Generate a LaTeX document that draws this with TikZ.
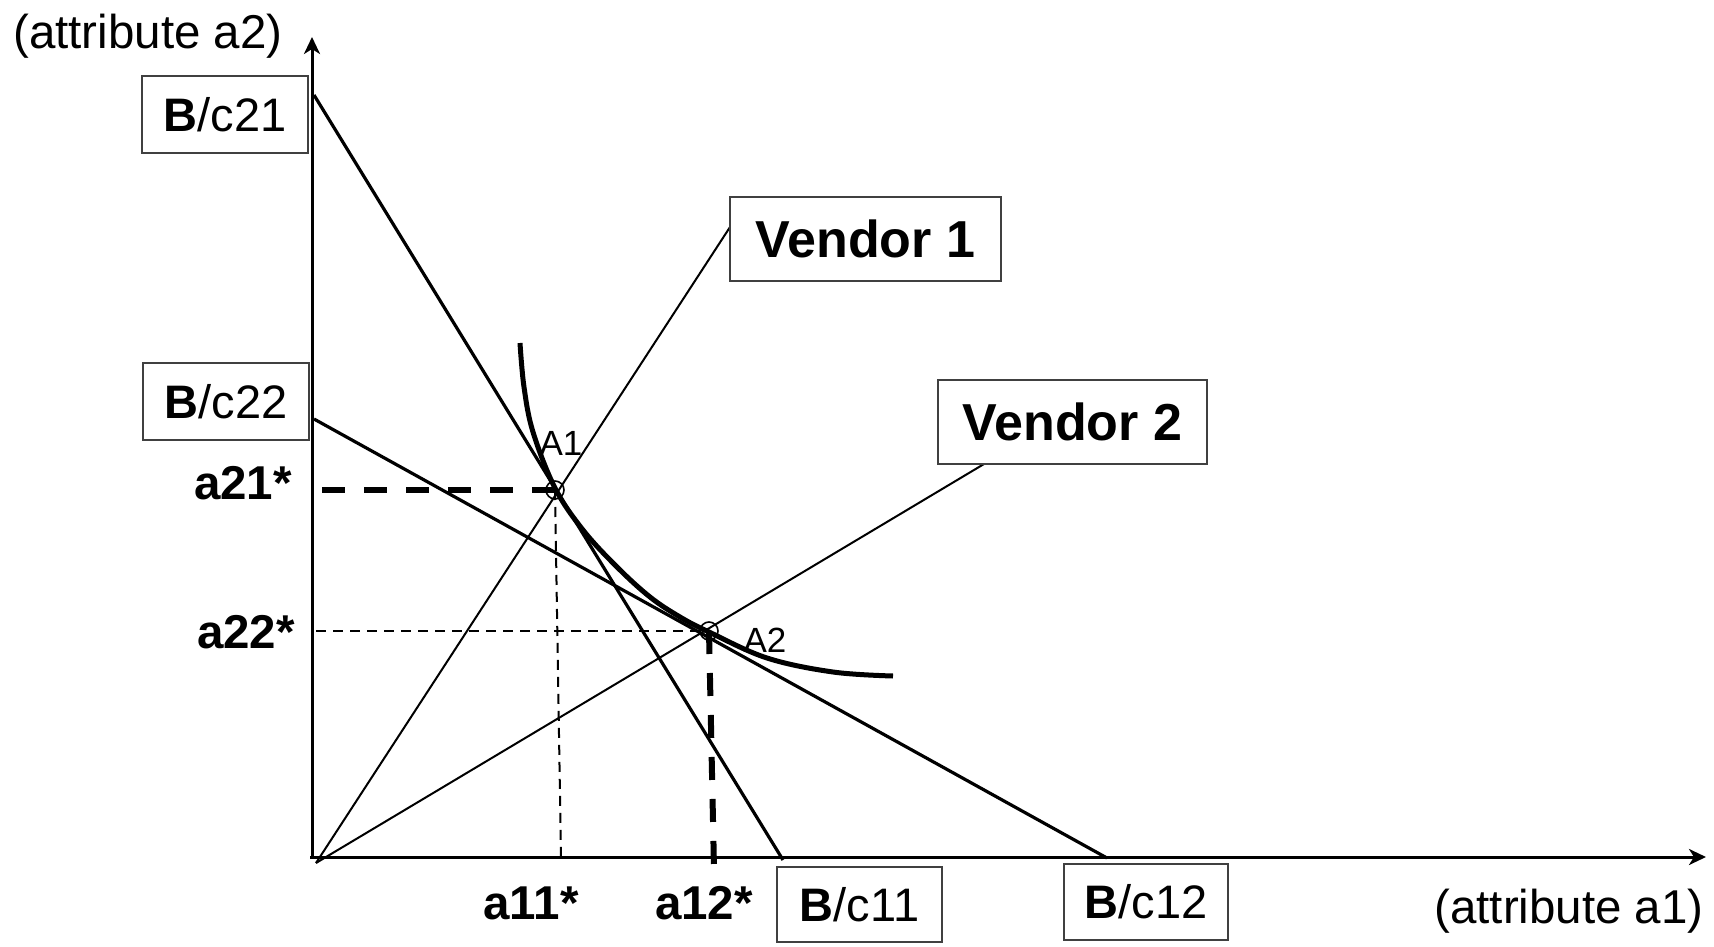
\documentclass[tikz,border=0pt]{standalone}
\usepackage{fontspec}
\setmainfont{Liberation Sans}
\usetikzlibrary{arrows.meta}
\begin{document}
\begin{tikzpicture}[x=1pt,y=-1pt,
  box/.style={draw=black!75, line width=1.5pt, inner sep=0pt, fill=white, font=\fontsize{47}{52}\selectfont},
  axlab/.style={font=\fontsize{47.5}{52}\selectfont, inner sep=0pt},
  starlab/.style={font=\fontsize{47.5}{52}\selectfont\bfseries, inner sep=0pt},
  ptlab/.style={font=\fontsize{35}{40}\selectfont, inner sep=0pt},
  vendbox/.style={box, font=\fontsize{52}{58}\selectfont\bfseries},
  axisline/.style={line width=3pt, -{Stealth[length=17pt,width=16pt,inset=5pt]}},
  budget/.style={line width=3.2pt},
  ray/.style={line width=2pt},
  thickdash/.style={line width=6pt, dash pattern=on 23pt off 19pt},
  thindash/.style={line width=2pt, dash pattern=on 10pt off 7pt},
  curve/.style={line width=5pt},
  optpt/.style={circle, draw, line width=1.6pt, minimum size=18pt, inner sep=0pt}
]
\useasboundingbox (0,0) rectangle (1714,947);

% coordinates
\coordinate (O) at (316,863);
\coordinate (yb) at (312,858);
\coordinate (yt) at (312,37);
\coordinate (xl) at (310,857);
\coordinate (xr) at (1706,857);
\coordinate (b21s) at (314,95);
\coordinate (b21e) at (783,860);
\coordinate (b22s) at (314,419);
\coordinate (b22e) at (1107,858);
\coordinate (v1e) at (732,224);
\coordinate (v2e) at (984,464);
\coordinate (d21s) at (322,490);
\coordinate (d22s) at (316,631);
\coordinate (d11e) at (561,857);
\coordinate (d12e) at (714,868);

% axes
\draw[axisline] (yb) -- (yt);
\draw[axisline] (xl) -- (xr);

% budget lines
\draw[budget] (b21s) -- (b21e);
\draw[budget] (b22s) -- (b22e);

% vendor rays
\draw[ray] (O) -- (v1e);
\draw[ray] (O) -- (v2e);

% indifference curve
\draw[curve] plot[smooth, tension=0.6] coordinates {(520,343) (524,387) (533,432) (555,488) (583,530) (617,567) (650,597) (680,617) (709,632) (767,658) (833,672) (893,676)};

% optimum points
\node[optpt] (A1) at (555,490) {};
\node[optpt] (A2) at (709,631) {};

% dashed guides
\draw[thickdash] (d21s) -- (A1.center);
\draw[thindash] (d22s) -- (A2.center);
\draw[thindash] (A1.center) -- (d11e);
\draw[thickdash] (A2.center) -- (d12e);

% point labels
\node[ptlab] (lA1) at (561,443) {A1};
\node[ptlab] (lA2) at (765,640) {A2};

% axis labels
\node[axlab] (ax2) at (148,36) {(attribute a2)};
\node[axlab] (ax1) at (1569,911) {(attribute a1)};

% star labels
\node[starlab] (s21) at (243,483) {a21*};
\node[starlab] (s22) at (246,632) {a22*};
\node[starlab] (s11) at (531,903) {a11*};
\node[starlab] (s12) at (704,903) {a12*};

% boxes
\node[box, minimum width=166pt, minimum height=77pt] (c21) at (225,114.5) {\textbf{B}/c21};
\node[box, minimum width=166pt, minimum height=77pt] (c22) at (226,401.5) {\textbf{B}/c22};
\node[box, minimum width=165pt, minimum height=75pt] (c11) at (859.5,904.5) {\textbf{B}/c11};
\node[box, minimum width=164pt, minimum height=76pt] (c12) at (1146,902) {\textbf{B}/c12};
\node[vendbox, minimum width=271pt, minimum height=84pt] (v1) at (865.5,239) {Vendor 1};
\node[vendbox, minimum width=269pt, minimum height=84pt] (v2) at (1072.5,422) {Vendor 2};
\end{tikzpicture}
\end{document}
